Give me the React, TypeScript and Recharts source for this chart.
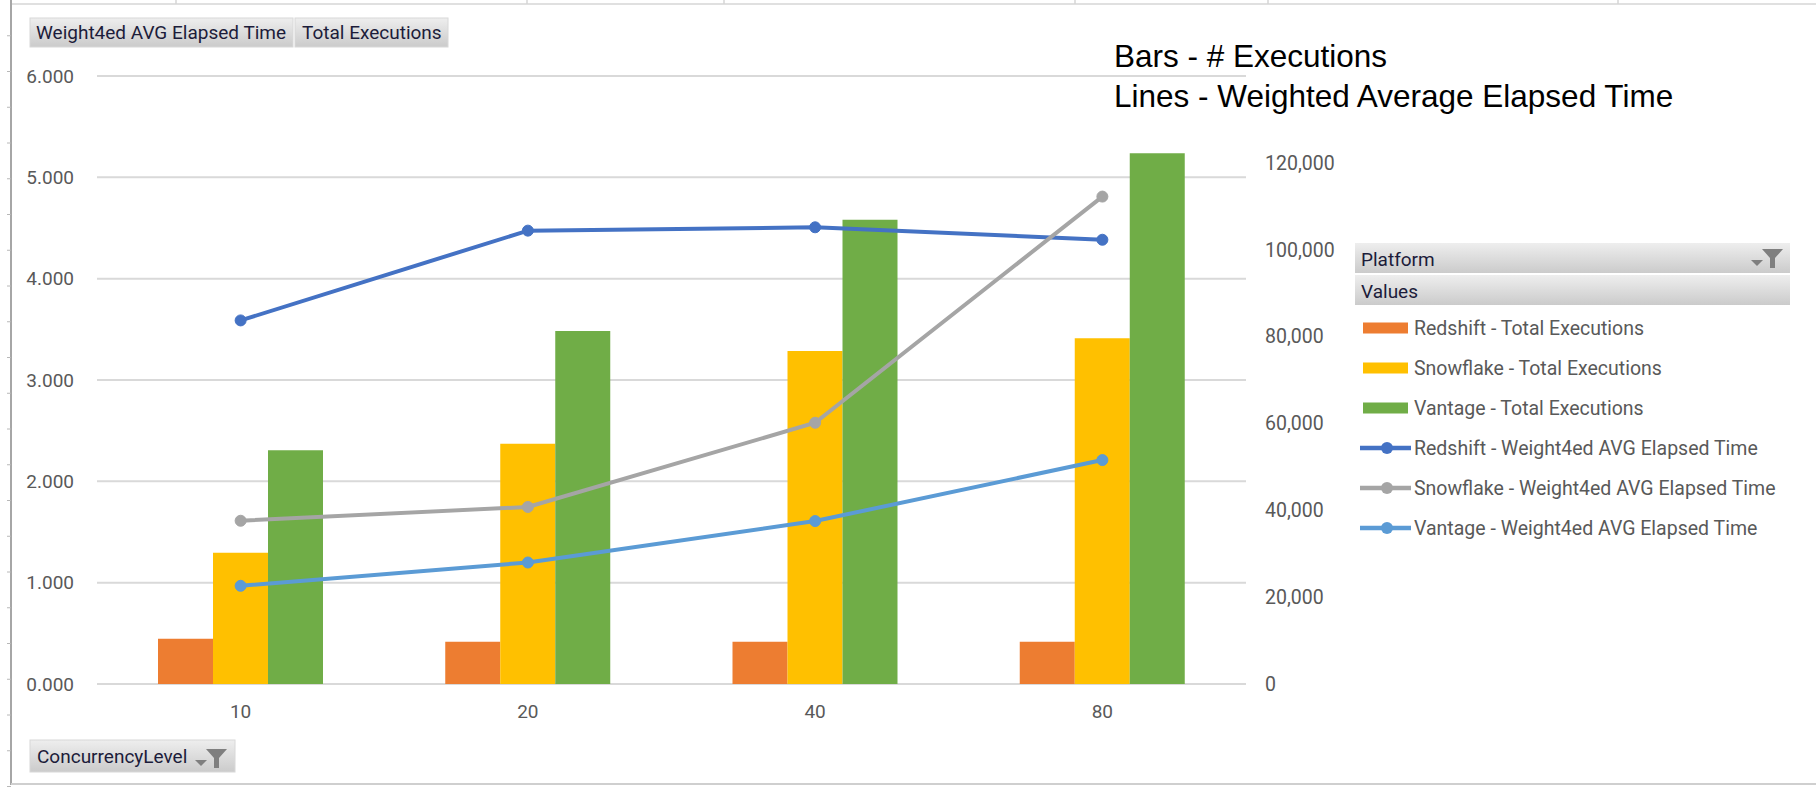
import React from 'react';
import { ComposedChart, Bar, Line, XAxis, YAxis, CartesianGrid } from 'recharts';

// ---------- data ----------
const levels = ['10', '20', '40', '80'];
const redshiftExec = [10400, 9700, 9700, 9700];
const snowflakeExec = [30200, 55300, 76700, 79600];
const vantageExec = [53800, 81300, 106900, 122200];
const redshiftTime = [3.588, 4.474, 4.507, 4.384];
const snowflakeTime = [1.611, 1.747, 2.578, 4.81];
const vantageTime = [0.969, 1.199, 1.608, 2.21];
const leftTicks = [0, 1, 2, 3, 4, 5, 6];
const rightTicks = [0, 20000, 40000, 60000, 80000, 100000, 120000];

const barSeries = [
  { key: 'redshiftExec', name: 'Redshift - Total Executions', color: '#ED7D31' },
  { key: 'snowflakeExec', name: 'Snowflake - Total Executions', color: '#FFC000' },
  { key: 'vantageExec', name: 'Vantage - Total Executions', color: '#70AD47' },
];
const lineSeries = [
  { key: 'redshiftTime', name: 'Redshift - Weight4ed AVG Elapsed Time', color: '#4472C4' },
  { key: 'snowflakeTime', name: 'Snowflake - Weight4ed AVG Elapsed Time', color: '#A5A5A5' },
  { key: 'vantageTime', name: 'Vantage - Weight4ed AVG Elapsed Time', color: '#5B9BD5' },
];

const data = levels.map((level, i) => ({
  level,
  redshiftExec: redshiftExec[i],
  snowflakeExec: snowflakeExec[i],
  vantageExec: vantageExec[i],
  redshiftTime: redshiftTime[i],
  snowflakeTime: snowflakeTime[i],
  vantageTime: vantageTime[i],
}));

const FONT = 'Roboto, "Noto Sans", sans-serif';
const TICK_COLOR = '#595959';
const HEAD_COLOR = '#1c1c3a';

function FilterIcon({ x, y }: { x: number; y: number }) {
  return (
    <g fill="#7f7f7f">
      <polygon points={`${x},${y + 11} ${x + 12},${y + 11} ${x + 6},${y + 17}`} />
      <path d={`M${x + 11},${y} L${x + 32},${y} L${x + 24},${y + 9} L${x + 24},${y + 19} L${x + 19},${y + 19} L${x + 19},${y + 9} Z`} />
    </g>
  );
}

function Overlay() {
  const topSeps = [176, 527, 724, 1075, 1268, 1618];
  const rowTicks = Array.from({ length: 22 }, (_, k) => 35.75 * (k + 1));
  const legendItems = [...barSeries.map((s) => ({ ...s, kind: 'bar' })), ...lineSeries.map((s) => ({ ...s, kind: 'line' }))];
  return (
    <svg width={1816} height={788} style={{ position: 'absolute', left: 0, top: 0, pointerEvents: 'none' }}>
      <defs>
        <linearGradient id="btnGrad" x1="0" y1="0" x2="0" y2="1">
          <stop offset="0" stopColor="#eeeeee" />
          <stop offset="1" stopColor="#cbcbcb" />
        </linearGradient>
      </defs>
      {/* sheet borders */}
      <line x1={11} y1={4} x2={1816} y2={4} stroke="#d6d6d6" strokeWidth={1.5} />
      {topSeps.map((x) => (
        <line key={x} x1={x} y1={0} x2={x} y2={4} stroke="#d6d6d6" strokeWidth={1.5} />
      ))}
      <line x1={11} y1={0} x2={11} y2={785} stroke="#a6a6a6" strokeWidth={2} />
      {rowTicks.map((y) => (
        <line key={y} x1={7} y1={y} x2={11} y2={y} stroke="#b8b8b8" strokeWidth={1} />
      ))}
      <line x1={11} y1={784} x2={1816} y2={784} stroke="#cfcfcf" strokeWidth={2} />

      {/* field buttons top */}
      <rect x={30} y={18} width={263} height={29} fill="url(#btnGrad)" stroke="#d8d8d8" />
      <text x={36} y={39} fontFamily={FONT} fontSize={19} fill={HEAD_COLOR}>Weight4ed AVG Elapsed Time</text>
      <rect x={295} y={18} width={153} height={29} fill="url(#btnGrad)" stroke="#d8d8d8" />
      <text x={302} y={39} fontFamily={FONT} fontSize={19} fill={HEAD_COLOR}>Total Executions</text>

      {/* annotation */}
      <text x={1114} y={67} fontFamily='"Liberation Sans", Arial, sans-serif' fontSize={31.5} fill="#000">Bars - # Executions</text>
      <text x={1114} y={107} fontFamily='"Liberation Sans", Arial, sans-serif' fontSize={31.5} fill="#000">Lines - Weighted Average Elapsed Time</text>

      {/* legend */}
      <rect x={1355} y={243} width={435} height={30} fill="url(#btnGrad)" />
      <text x={1361} y={266} fontFamily={FONT} fontSize={19} fill={HEAD_COLOR}>Platform</text>
      <FilterIcon x={1751} y={249} />
      <rect x={1355} y={275} width={435} height={30} fill="url(#btnGrad)" />
      <text x={1361} y={298} fontFamily={FONT} fontSize={19} fill={HEAD_COLOR}>Values</text>
      {legendItems.map((it, i) => {
        const cy = 328 + 40 * i;
        return (
          <g key={it.key}>
            {it.kind === 'bar' ? (
              <rect x={1363} y={cy - 5.5} width={45} height={11} fill={it.color} />
            ) : (
              <g>
                <line x1={1360} y1={cy} x2={1411} y2={cy} stroke={it.color} strokeWidth={4.5} />
                <circle cx={1387} cy={cy} r={6} fill={it.color} />
              </g>
            )}
            <text x={1414} y={cy + 7} fontFamily={FONT} fontSize={19.5} fill={TICK_COLOR}>{it.name}</text>
          </g>
        );
      })}

      {/* axis field button bottom */}
      <rect x={30} y={740} width={205} height={32} fill="url(#btnGrad)" stroke="#d8d8d8" />
      <text x={37} y={763} fontFamily={FONT} fontSize={19} fill={HEAD_COLOR}>ConcurrencyLevel</text>
      <FilterIcon x={195} y={749} />
    </svg>
  );
}

export default function App() {
  return (
    <div style={{ position: 'absolute', left: 0, top: 0, width: 1816, height: 788, background: '#fff', overflow: 'hidden' }}>
      <ComposedChart
        width={1816}
        height={788}
        data={data}
        margin={{ top: 76, right: 490, bottom: 54, left: 17 }}
        barGap={0}
      >
        <CartesianGrid yAxisId="left" vertical={false} stroke="#d9d9d9" strokeWidth={2} />
        <XAxis
          dataKey="level"
          axisLine={false}
          tickLine={false}
          tickSize={0}
          tickMargin={21}
          height={50}
          interval={0}
          tick={{ fill: TICK_COLOR, fontSize: 19, fontFamily: FONT }}
        />
        <YAxis
          yAxisId="left"
          orientation="left"
          width={80}
          domain={[0, 6]}
          ticks={leftTicks}
          axisLine={false}
          tickLine={false}
          tickSize={0}
          tickMargin={23}
          tickFormatter={(v: number) => v.toFixed(3)}
          tick={{ fill: TICK_COLOR, fontSize: 19, fontFamily: FONT }}
        />
        <YAxis
          yAxisId="right"
          orientation="right"
          width={80}
          domain={[0, 140000]}
          ticks={rightTicks}
          axisLine={false}
          tickLine={false}
          tickSize={0}
          tickMargin={19}
          tickFormatter={(v: number) => v.toLocaleString('en-US')}
          tick={{ fill: TICK_COLOR, fontSize: 19.5, fontFamily: FONT, textAnchor: 'start' }}
        />
        {barSeries.map((s) => (
          <Bar
            key={s.key}
            yAxisId="right"
            dataKey={s.key}
            name={s.name}
            fill={s.color}
            barSize={55}
            isAnimationActive={false}
          />
        ))}
        {lineSeries.map((s) => (
          <Line
            key={s.key}
            yAxisId="left"
            type="linear"
            dataKey={s.key}
            name={s.name}
            stroke={s.color}
            strokeWidth={4}
            dot={{ r: 5.5, fill: s.color, stroke: s.color, strokeWidth: 1 }}
            activeDot={false}
            isAnimationActive={false}
          />
        ))}
      </ComposedChart>
      <Overlay />
    </div>
  );
}
